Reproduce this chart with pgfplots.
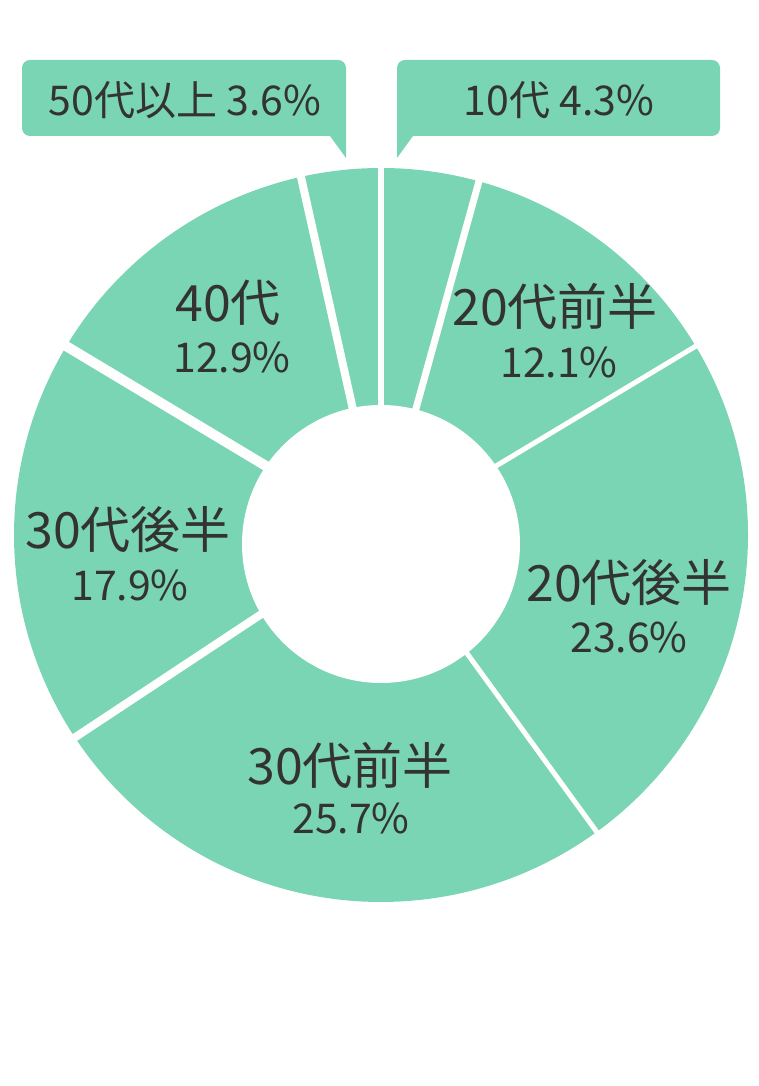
\documentclass[border=0pt]{standalone}
\usepackage{fontspec}
\setmainfont{Noto Sans CJK JP}
\usepackage{pgfplots}
\usepackage{pgfplotstable}
\pgfplotsset{compat=1.18}

\definecolor{slice}{HTML}{7AD5B4}
\definecolor{ink}{HTML}{333333}

% share of each age group, clockwise from the top; gap = white line width
\pgfplotstableread{
group value gap
10代 4.3 6
20代前半 12.1 7
20代後半 23.6 5
30代前半 25.7 5
30代後半 17.9 8
40代 12.9 10
50代以上 3.6 8
}\agetable

\newcommand{\biglabel}[1]{{\fontsize{50}{50}\selectfont #1}}
\newcommand{\pctlabel}[1]{{\fontsize{41}{41}\selectfont #1}}

\begin{document}
\begin{tikzpicture}
\begin{axis}[
    width=758pt, height=1086pt, scale only axis,
    xmin=0, xmax=758, ymin=0, ymax=1086,
    hide axis, clip=false,
  ]
  \addplot[draw=none] coordinates {(0,0) (758,1086)};

  % wedges
  \gdef\angstart{90}%
  \pgfplotsinvokeforeach{0,...,6}{%
    \pgfplotstablegetelem{#1}{value}\of\agetable
    \pgfmathsetmacro\angend{\angstart-3.6*\pgfplotsretval}%
    \edef\temp{\noexpand\fill[slice] (axis cs:381,551) -- ++(\angstart:367)
      arc[start angle=\angstart, end angle=\angend, radius=367] -- cycle;}%
    \temp
    \xdef\angstart{\angend}%
  }
  % white separators
  \gdef\angstart{90}%
  \pgfplotsinvokeforeach{0,...,6}{%
    \pgfplotstablegetelem{#1}{gap}\of\agetable
    \edef\temp{\noexpand\draw[white, line width=\pgfplotsretval pt]
      (axis cs:381,551) -- ++(\angstart:385);}%
    \temp
    \pgfplotstablegetelem{#1}{value}\of\agetable
    \pgfmathsetmacro\angend{\angstart-3.6*\pgfplotsretval}%
    \xdef\angstart{\angend}%
  }
  \fill[white] (axis cs:381,542) circle[radius=139];

  % callouts
  \fill[slice] (axis cs:346,928) -- (axis cs:330,950)
    [rounded corners=8pt] -- (axis cs:22,950) -- (axis cs:22,1026)
    -- (axis cs:346,1026) [sharp corners] -- (axis cs:346,950) -- cycle;
  \fill[slice] (axis cs:397,928) -- (axis cs:413,950)
    [rounded corners=8pt] -- (axis cs:720,950) -- (axis cs:720,1026)
    -- (axis cs:397,1026) [sharp corners] -- (axis cs:397,950) -- cycle;
  \node[ink] at (axis cs:185,986) {\pctlabel{50代以上 3.6\%}};
  \node[ink] at (axis cs:559,986) {\pctlabel{10代 4.3\%}};

  % labels
  \node[ink] at (axis cs:555,780) {\biglabel{20代前半}};
  \node[ink] at (axis cs:559,724) {\pctlabel{12.1\%}};
  \node[ink] at (axis cs:629,503) {\biglabel{20代後半}};
  \node[ink] at (axis cs:629,449) {\pctlabel{23.6\%}};
  \node[ink] at (axis cs:350,321) {\biglabel{30代前半}};
  \node[ink] at (axis cs:351,268) {\pctlabel{25.7\%}};
  \node[ink] at (axis cs:128,556) {\biglabel{30代後半}};
  \node[ink] at (axis cs:130,501) {\pctlabel{17.9\%}};
  \node[ink] at (axis cs:228,783) {\biglabel{40代}};
  \node[ink] at (axis cs:232,729) {\pctlabel{12.9\%}};
\end{axis}
\pgfresetboundingbox
\useasboundingbox (0,0) rectangle (758pt,1086pt);
\end{tikzpicture}
\end{document}
